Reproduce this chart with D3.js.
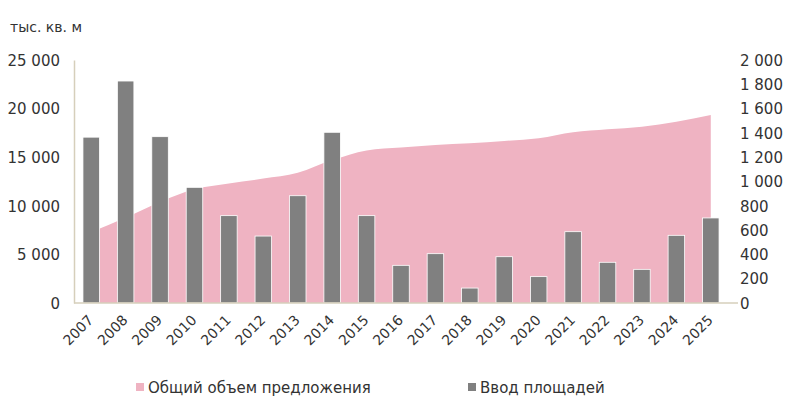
<!DOCTYPE html>
<html>
<head>
<meta charset="utf-8">
<script src="https://cdn.jsdelivr.net/npm/d3@7"></script>
<style>
  body { margin: 0; background: #fff; }
  text { font-family: "DejaVu Sans", sans-serif; fill: #333; }
</style>
</head>
<body>
<div id="chart"></div>
<script>
// data
var years = ["2007","2008","2009","2010","2011","2012","2013","2014","2015","2016",
             "2017","2018","2019","2020","2021","2022","2023","2024","2025"];
var totalStock = [7300, 8800, 10400, 11700, 12300, 12800, 13400, 14700, 15700, 16000,
                  16250, 16430, 16670, 16940, 17560, 17870, 18140, 18650, 19340];
var newSupply = [1365, 1827, 1369, 952, 719, 551, 883, 1405, 719, 310,
                 406, 123, 381, 217, 587, 335, 277, 557, 700];
var leftTicks = [0, 5000, 10000, 15000, 20000, 25000];
var rightTicks = [0, 200, 400, 600, 800, 1000, 1200, 1400, 1600, 1800, 2000];
var seriesNames = ["Общий объем предложения", "Ввод площадей"];

var width = 800, height = 398;
var plot = { left: 74, right: 728, top: 60, bottom: 303 };

var svg = d3.select("#chart").append("svg")
    .attr("width", width)
    .attr("height", height);

var fmtL = function(d) { return d3.format(",")(d).replace(/,/g, " "); };

var xScale = d3.scaleBand().domain(years).range([plot.left, plot.right])
    .paddingInner(0.52).paddingOuter(0.26);
var yLeft = d3.scaleLinear().domain([0, 25000]).range([plot.bottom, plot.top]);
var yRight = d3.scaleLinear().domain([0, 2000]).range([plot.bottom, plot.top]);

// area (left axis)
var area = d3.area()
    .x(function(d, i) { return xScale(years[i]) + xScale.bandwidth() / 2; })
    .y0(yLeft(0))
    .y1(function(d) { return yLeft(d); })
    .curve(d3.curveMonotoneX);

svg.append("path")
   .datum(totalStock)
   .attr("d", area)
   .attr("fill", "#efb3c2");

// bars (right axis)
svg.selectAll(".bar")
   .data(newSupply)
   .enter().append("rect")
   .attr("class", "bar")
   .attr("x", function(d, i) { return xScale(years[i]); })
   .attr("y", function(d) { return yRight(d); })
   .attr("width", xScale.bandwidth())
   .attr("height", function(d) { return yRight(0) - yRight(d); })
   .attr("fill", "#808080")
   .attr("stroke", "#fff")
   .attr("stroke-width", 0.8);

// left axis
var gL = svg.append("g")
    .attr("transform", "translate(" + plot.left + ",0)")
    .call(d3.axisLeft(yLeft).tickValues(leftTicks).tickSize(0).tickPadding(14).tickFormat(fmtL));
gL.select(".domain").attr("stroke", "#d6cfbb").attr("stroke-width", 1.5);
gL.selectAll("text").style("font-size", "15px").attr("dy", "0.35em");

// right axis
var gR = svg.append("g")
    .attr("transform", "translate(" + plot.right + ",0)")
    .call(d3.axisRight(yRight).tickValues(rightTicks).tickSize(0).tickPadding(12).tickFormat(fmtL));
gR.select(".domain").remove();
gR.selectAll("text").style("font-size", "15px").attr("dy", "0.35em");

// bottom axis
var gB = svg.append("g")
    .attr("transform", "translate(0," + plot.bottom + ")")
    .call(d3.axisBottom(xScale).tickSize(0).tickPadding(0));
gB.select(".domain").attr("stroke", "#d6cfbb").attr("stroke-width", 1.5)
   .attr("d", "M" + plot.left + ",0H" + (plot.right + 10));
gB.selectAll("text")
   .style("font-size", "14px")
   .attr("text-anchor", "end")
   .attr("dy", "0")
   .attr("transform", "translate(3,18) rotate(-45)");

// unit label
svg.append("text")
   .attr("x", 10).attr("y", 32)
   .style("font-size", "14px")
   .text("тыс. кв. м");

// legend
var legend = svg.append("g");
var legendX = [136, 468];
var legendColors = ["#efb3c2", "#808080"];
seriesNames.forEach(function(name, i) {
  legend.append("rect")
     .attr("x", legendX[i]).attr("y", 383)
     .attr("width", 8).attr("height", 8)
     .attr("fill", legendColors[i]);
  legend.append("text")
     .attr("x", legendX[i] + 12).attr("y", 393)
     .style("font-size", "15px")
     .text(name);
});
</script>
</body>
</html>
